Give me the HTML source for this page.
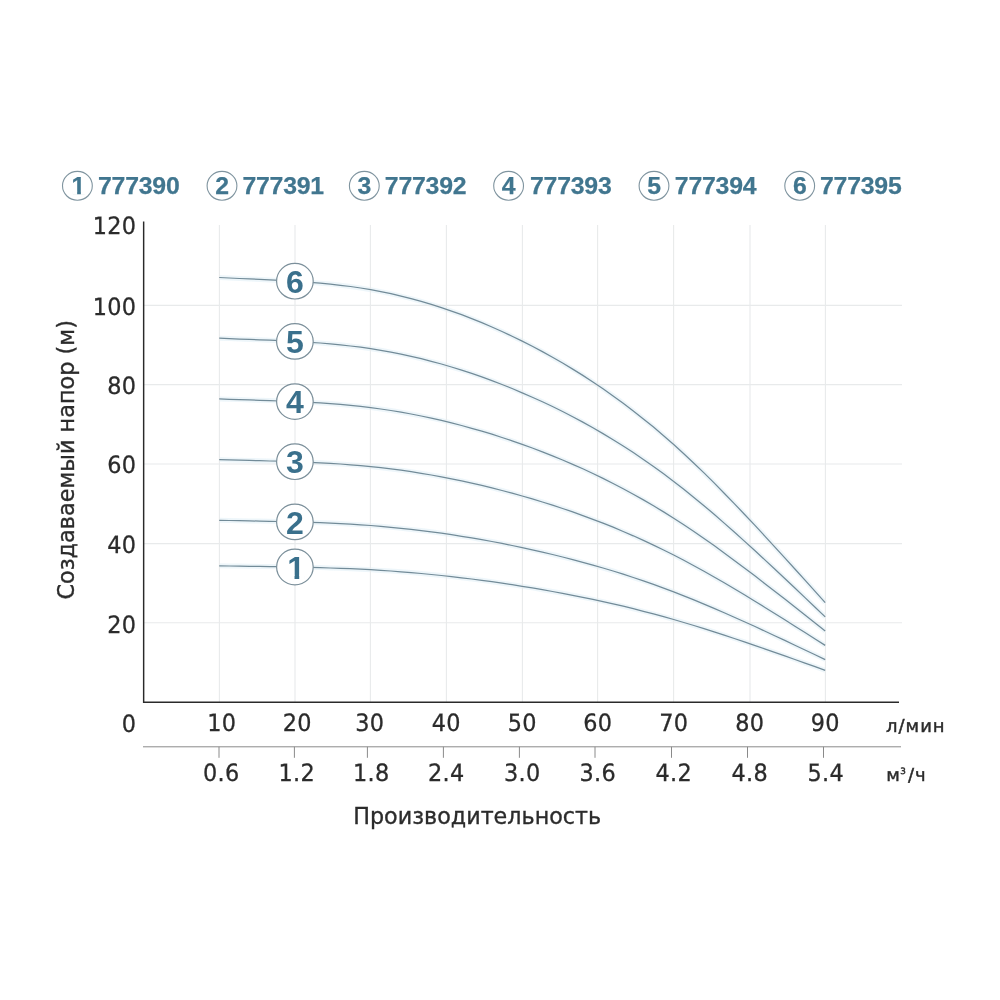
<!DOCTYPE html>
<html lang="ru"><head><meta charset="utf-8"><title>График</title>
<style>
html,body{margin:0;padding:0;background:#fff;}
body{width:1000px;height:1000px;overflow:hidden;}
svg{display:block;}
.num{font-family:"DejaVu Sans", "Liberation Sans", sans-serif;font-size:23.8px;fill:#2b2b2b;letter-spacing:0.3px;text-rendering:geometricPrecision;stroke:#2b2b2b;stroke-width:0.3px;}
.unit{font-family:"DejaVu Sans", "Liberation Sans", sans-serif;font-size:18px;fill:#2b2b2b;letter-spacing:1px;stroke:#2b2b2b;stroke-width:0.45px;text-rendering:geometricPrecision;}
.ttl{font-family:"DejaVu Sans", "Liberation Sans", sans-serif;font-size:23px;fill:#2b2b2b;stroke:#2b2b2b;stroke-width:0.35px;}
.leg{font-family:"Liberation Sans", sans-serif;font-weight:bold;font-size:24.8px;fill:#41768f;letter-spacing:-0.2px;stroke:#41768f;stroke-width:0.25px;}
.lab{font-family:"Liberation Sans", sans-serif;font-weight:bold;font-size:32px;fill:#3a708c;}
</style></head><body>
<svg width="1000" height="1000" viewBox="0 0 1000 1000">
<rect width="1000" height="1000" fill="#fff"/>

<g stroke="#e3f1f8" stroke-width="5" fill="none" stroke-linecap="butt" opacity="0.6">
<path d="M219.2 565.8 L229.3 566.0 L239.4 566.1 L249.5 566.3 L259.6 566.4 L269.7 566.6 L279.8 566.7 L289.9 566.9 L300.0 567.1 L310.1 567.4 L320.2 567.6 L330.3 568.0 L340.4 568.3 L350.5 568.7 L360.6 569.2 L370.7 569.7 L380.8 570.4 L390.9 571.0 L401.0 571.8 L411.1 572.6 L421.2 573.5 L431.3 574.5 L441.4 575.5 L451.5 576.6 L461.6 577.8 L471.7 579.0 L481.8 580.3 L491.9 581.7 L502.0 583.2 L512.1 584.7 L522.2 586.3 L532.3 587.9 L542.4 589.7 L552.5 591.5 L562.6 593.3 L572.7 595.3 L582.8 597.3 L592.9 599.4 L603.0 601.6 L613.1 603.9 L623.2 606.2 L633.3 608.7 L643.4 611.3 L653.5 613.9 L663.6 616.7 L673.7 619.5 L683.8 622.5 L693.9 625.5 L704.0 628.6 L714.1 631.9 L724.2 635.1 L734.3 638.5 L744.4 641.9 L754.5 645.4 L764.6 648.8 L774.7 652.4 L784.8 655.9 L794.9 659.5 L805.0 663.1 L815.1 666.7 L825.2 670.3"/>
<path d="M219.2 520.3 L229.3 520.5 L239.4 520.7 L249.5 520.9 L259.6 521.1 L269.7 521.3 L279.8 521.5 L289.9 521.8 L300.0 522.0 L310.1 522.4 L320.2 522.7 L330.3 523.1 L340.4 523.6 L350.5 524.2 L360.6 524.8 L370.7 525.5 L380.8 526.3 L390.9 527.3 L401.0 528.3 L411.1 529.4 L421.2 530.6 L431.3 531.8 L441.4 533.2 L451.5 534.7 L461.6 536.3 L471.7 537.9 L481.8 539.7 L491.9 541.5 L502.0 543.4 L512.1 545.5 L522.2 547.6 L532.3 549.8 L542.4 552.1 L552.5 554.5 L562.6 557.0 L572.7 559.6 L582.8 562.3 L592.9 565.1 L603.0 568.0 L613.1 571.0 L623.2 574.2 L633.3 577.5 L643.4 580.9 L653.5 584.4 L663.6 588.1 L673.7 591.9 L683.8 595.8 L693.9 599.9 L704.0 604.1 L714.1 608.3 L724.2 612.7 L734.3 617.2 L744.4 621.7 L754.5 626.3 L764.6 631.0 L774.7 635.7 L784.8 640.4 L794.9 645.2 L805.0 650.0 L815.1 654.8 L825.2 659.6"/>
<path d="M219.2 459.6 L229.3 459.9 L239.4 460.2 L249.5 460.4 L259.6 460.7 L269.7 461.0 L279.8 461.2 L289.9 461.6 L300.0 461.9 L310.1 462.3 L320.2 462.8 L330.3 463.4 L340.4 464.0 L350.5 464.8 L360.6 465.6 L370.7 466.6 L380.8 467.7 L390.9 468.9 L401.0 470.2 L411.1 471.7 L421.2 473.3 L431.3 475.0 L441.4 476.8 L451.5 478.8 L461.6 480.9 L471.7 483.1 L481.8 485.4 L491.9 487.9 L502.0 490.5 L512.1 493.1 L522.2 496.0 L532.3 498.9 L542.4 502.0 L552.5 505.2 L562.6 508.5 L572.7 511.9 L582.8 515.6 L592.9 519.3 L603.0 523.2 L613.1 527.2 L623.2 531.5 L633.3 535.8 L643.4 540.4 L653.5 545.1 L663.6 550.0 L673.7 555.0 L683.8 560.3 L693.9 565.7 L704.0 571.3 L714.1 577.0 L724.2 582.8 L734.3 588.8 L744.4 594.8 L754.5 601.0 L764.6 607.2 L774.7 613.5 L784.8 619.8 L794.9 626.2 L805.0 632.5 L815.1 639.0 L825.2 645.4"/>
<path d="M219.2 398.9 L229.3 399.3 L239.4 399.6 L249.5 399.9 L259.6 400.3 L269.7 400.6 L279.8 401.0 L289.9 401.4 L300.0 401.8 L310.1 402.3 L320.2 402.9 L330.3 403.6 L340.4 404.4 L350.5 405.4 L360.6 406.4 L370.7 407.6 L380.8 409.0 L390.9 410.5 L401.0 412.2 L411.1 414.0 L421.2 416.0 L431.3 418.1 L441.4 420.4 L451.5 422.9 L461.6 425.5 L471.7 428.3 L481.8 431.2 L491.9 434.2 L502.0 437.5 L512.1 440.8 L522.2 444.4 L532.3 448.0 L542.4 451.9 L552.5 455.9 L562.6 460.0 L572.7 464.3 L582.8 468.8 L592.9 473.5 L603.0 478.4 L613.1 483.5 L623.2 488.7 L633.3 494.2 L643.4 499.9 L653.5 505.8 L663.6 511.9 L673.7 518.2 L683.8 524.8 L693.9 531.5 L704.0 538.5 L714.1 545.6 L724.2 552.9 L734.3 560.4 L744.4 568.0 L754.5 575.6 L764.6 583.4 L774.7 591.2 L784.8 599.1 L794.9 607.1 L805.0 615.1 L815.1 623.1 L825.2 631.1"/>
<path d="M219.2 338.2 L229.3 338.6 L239.4 339.1 L249.5 339.4 L259.6 339.8 L269.7 340.2 L279.8 340.7 L289.9 341.1 L300.0 341.7 L310.1 342.3 L320.2 343.0 L330.3 343.9 L340.4 344.8 L350.5 346.0 L360.6 347.2 L370.7 348.7 L380.8 350.3 L390.9 352.1 L401.0 354.1 L411.1 356.3 L421.2 358.7 L431.3 361.3 L441.4 364.0 L451.5 367.0 L461.6 370.1 L471.7 373.4 L481.8 376.9 L491.9 380.6 L502.0 384.5 L512.1 388.5 L522.2 392.8 L532.3 397.2 L542.4 401.8 L552.5 406.5 L562.6 411.5 L572.7 416.7 L582.8 422.1 L592.9 427.7 L603.0 433.6 L613.1 439.7 L623.2 446.0 L633.3 452.6 L643.4 459.4 L653.5 466.4 L663.6 473.8 L673.7 481.4 L683.8 489.2 L693.9 497.4 L704.0 505.7 L714.1 514.3 L724.2 523.1 L734.3 532.0 L744.4 541.1 L754.5 550.3 L764.6 559.6 L774.7 569.0 L784.8 578.5 L794.9 588.0 L805.0 597.6 L815.1 607.2 L825.2 616.9"/>
<path d="M219.2 277.5 L229.3 278.0 L239.4 278.5 L249.5 278.9 L259.6 279.4 L269.7 279.9 L279.8 280.4 L289.9 280.9 L300.0 281.6 L310.1 282.3 L320.2 283.2 L330.3 284.1 L340.4 285.3 L350.5 286.5 L360.6 288.0 L370.7 289.7 L380.8 291.6 L390.9 293.7 L401.0 296.1 L411.1 298.6 L421.2 301.4 L431.3 304.4 L441.4 307.6 L451.5 311.1 L461.6 314.7 L471.7 318.6 L481.8 322.7 L491.9 327.0 L502.0 331.5 L512.1 336.2 L522.2 341.1 L532.3 346.3 L542.4 351.6 L552.5 357.2 L562.6 363.0 L572.7 369.1 L582.8 375.4 L592.9 382.0 L603.0 388.8 L613.1 395.9 L623.2 403.3 L633.3 410.9 L643.4 418.9 L653.5 427.1 L663.6 435.7 L673.7 444.5 L683.8 453.7 L693.9 463.2 L704.0 472.9 L714.1 482.9 L724.2 493.2 L734.3 503.6 L744.4 514.2 L754.5 524.9 L764.6 535.8 L774.7 546.8 L784.8 557.8 L794.9 569.0 L805.0 580.2 L815.1 591.4 L825.2 602.6"/>
</g>
<g stroke="#e8eaeb" stroke-width="1.1" fill="none">
<line x1="219.4" y1="225" x2="219.4" y2="702"/>
<line x1="295" y1="225" x2="295" y2="702"/>
<line x1="370.4" y1="225" x2="370.4" y2="702"/>
<line x1="446.4" y1="225" x2="446.4" y2="702"/>
<line x1="522.4" y1="225" x2="522.4" y2="702"/>
<line x1="597.6" y1="225" x2="597.6" y2="702"/>
<line x1="673.6" y1="225" x2="673.6" y2="702"/>
<line x1="750" y1="225" x2="750" y2="702"/>
<line x1="825.4" y1="225" x2="825.4" y2="702"/>
<line x1="144" y1="305.4" x2="902" y2="305.4"/>
<line x1="144" y1="384.6" x2="902" y2="384.6"/>
<line x1="144" y1="464" x2="902" y2="464"/>
<line x1="144" y1="543.6" x2="902" y2="543.6"/>
<line x1="144" y1="622.8" x2="902" y2="622.8"/>
</g>
<g stroke="#728b98" stroke-width="1.25" fill="none" stroke-linecap="butt">
<path d="M219.2 565.8 L229.3 566.0 L239.4 566.1 L249.5 566.3 L259.6 566.4 L269.7 566.6 L279.8 566.7 L289.9 566.9 L300.0 567.1 L310.1 567.4 L320.2 567.6 L330.3 568.0 L340.4 568.3 L350.5 568.7 L360.6 569.2 L370.7 569.7 L380.8 570.4 L390.9 571.0 L401.0 571.8 L411.1 572.6 L421.2 573.5 L431.3 574.5 L441.4 575.5 L451.5 576.6 L461.6 577.8 L471.7 579.0 L481.8 580.3 L491.9 581.7 L502.0 583.2 L512.1 584.7 L522.2 586.3 L532.3 587.9 L542.4 589.7 L552.5 591.5 L562.6 593.3 L572.7 595.3 L582.8 597.3 L592.9 599.4 L603.0 601.6 L613.1 603.9 L623.2 606.2 L633.3 608.7 L643.4 611.3 L653.5 613.9 L663.6 616.7 L673.7 619.5 L683.8 622.5 L693.9 625.5 L704.0 628.6 L714.1 631.9 L724.2 635.1 L734.3 638.5 L744.4 641.9 L754.5 645.4 L764.6 648.8 L774.7 652.4 L784.8 655.9 L794.9 659.5 L805.0 663.1 L815.1 666.7 L825.2 670.3"/>
<path d="M219.2 520.3 L229.3 520.5 L239.4 520.7 L249.5 520.9 L259.6 521.1 L269.7 521.3 L279.8 521.5 L289.9 521.8 L300.0 522.0 L310.1 522.4 L320.2 522.7 L330.3 523.1 L340.4 523.6 L350.5 524.2 L360.6 524.8 L370.7 525.5 L380.8 526.3 L390.9 527.3 L401.0 528.3 L411.1 529.4 L421.2 530.6 L431.3 531.8 L441.4 533.2 L451.5 534.7 L461.6 536.3 L471.7 537.9 L481.8 539.7 L491.9 541.5 L502.0 543.4 L512.1 545.5 L522.2 547.6 L532.3 549.8 L542.4 552.1 L552.5 554.5 L562.6 557.0 L572.7 559.6 L582.8 562.3 L592.9 565.1 L603.0 568.0 L613.1 571.0 L623.2 574.2 L633.3 577.5 L643.4 580.9 L653.5 584.4 L663.6 588.1 L673.7 591.9 L683.8 595.8 L693.9 599.9 L704.0 604.1 L714.1 608.3 L724.2 612.7 L734.3 617.2 L744.4 621.7 L754.5 626.3 L764.6 631.0 L774.7 635.7 L784.8 640.4 L794.9 645.2 L805.0 650.0 L815.1 654.8 L825.2 659.6"/>
<path d="M219.2 459.6 L229.3 459.9 L239.4 460.2 L249.5 460.4 L259.6 460.7 L269.7 461.0 L279.8 461.2 L289.9 461.6 L300.0 461.9 L310.1 462.3 L320.2 462.8 L330.3 463.4 L340.4 464.0 L350.5 464.8 L360.6 465.6 L370.7 466.6 L380.8 467.7 L390.9 468.9 L401.0 470.2 L411.1 471.7 L421.2 473.3 L431.3 475.0 L441.4 476.8 L451.5 478.8 L461.6 480.9 L471.7 483.1 L481.8 485.4 L491.9 487.9 L502.0 490.5 L512.1 493.1 L522.2 496.0 L532.3 498.9 L542.4 502.0 L552.5 505.2 L562.6 508.5 L572.7 511.9 L582.8 515.6 L592.9 519.3 L603.0 523.2 L613.1 527.2 L623.2 531.5 L633.3 535.8 L643.4 540.4 L653.5 545.1 L663.6 550.0 L673.7 555.0 L683.8 560.3 L693.9 565.7 L704.0 571.3 L714.1 577.0 L724.2 582.8 L734.3 588.8 L744.4 594.8 L754.5 601.0 L764.6 607.2 L774.7 613.5 L784.8 619.8 L794.9 626.2 L805.0 632.5 L815.1 639.0 L825.2 645.4"/>
<path d="M219.2 398.9 L229.3 399.3 L239.4 399.6 L249.5 399.9 L259.6 400.3 L269.7 400.6 L279.8 401.0 L289.9 401.4 L300.0 401.8 L310.1 402.3 L320.2 402.9 L330.3 403.6 L340.4 404.4 L350.5 405.4 L360.6 406.4 L370.7 407.6 L380.8 409.0 L390.9 410.5 L401.0 412.2 L411.1 414.0 L421.2 416.0 L431.3 418.1 L441.4 420.4 L451.5 422.9 L461.6 425.5 L471.7 428.3 L481.8 431.2 L491.9 434.2 L502.0 437.5 L512.1 440.8 L522.2 444.4 L532.3 448.0 L542.4 451.9 L552.5 455.9 L562.6 460.0 L572.7 464.3 L582.8 468.8 L592.9 473.5 L603.0 478.4 L613.1 483.5 L623.2 488.7 L633.3 494.2 L643.4 499.9 L653.5 505.8 L663.6 511.9 L673.7 518.2 L683.8 524.8 L693.9 531.5 L704.0 538.5 L714.1 545.6 L724.2 552.9 L734.3 560.4 L744.4 568.0 L754.5 575.6 L764.6 583.4 L774.7 591.2 L784.8 599.1 L794.9 607.1 L805.0 615.1 L815.1 623.1 L825.2 631.1"/>
<path d="M219.2 338.2 L229.3 338.6 L239.4 339.1 L249.5 339.4 L259.6 339.8 L269.7 340.2 L279.8 340.7 L289.9 341.1 L300.0 341.7 L310.1 342.3 L320.2 343.0 L330.3 343.9 L340.4 344.8 L350.5 346.0 L360.6 347.2 L370.7 348.7 L380.8 350.3 L390.9 352.1 L401.0 354.1 L411.1 356.3 L421.2 358.7 L431.3 361.3 L441.4 364.0 L451.5 367.0 L461.6 370.1 L471.7 373.4 L481.8 376.9 L491.9 380.6 L502.0 384.5 L512.1 388.5 L522.2 392.8 L532.3 397.2 L542.4 401.8 L552.5 406.5 L562.6 411.5 L572.7 416.7 L582.8 422.1 L592.9 427.7 L603.0 433.6 L613.1 439.7 L623.2 446.0 L633.3 452.6 L643.4 459.4 L653.5 466.4 L663.6 473.8 L673.7 481.4 L683.8 489.2 L693.9 497.4 L704.0 505.7 L714.1 514.3 L724.2 523.1 L734.3 532.0 L744.4 541.1 L754.5 550.3 L764.6 559.6 L774.7 569.0 L784.8 578.5 L794.9 588.0 L805.0 597.6 L815.1 607.2 L825.2 616.9"/>
<path d="M219.2 277.5 L229.3 278.0 L239.4 278.5 L249.5 278.9 L259.6 279.4 L269.7 279.9 L279.8 280.4 L289.9 280.9 L300.0 281.6 L310.1 282.3 L320.2 283.2 L330.3 284.1 L340.4 285.3 L350.5 286.5 L360.6 288.0 L370.7 289.7 L380.8 291.6 L390.9 293.7 L401.0 296.1 L411.1 298.6 L421.2 301.4 L431.3 304.4 L441.4 307.6 L451.5 311.1 L461.6 314.7 L471.7 318.6 L481.8 322.7 L491.9 327.0 L502.0 331.5 L512.1 336.2 L522.2 341.1 L532.3 346.3 L542.4 351.6 L552.5 357.2 L562.6 363.0 L572.7 369.1 L582.8 375.4 L592.9 382.0 L603.0 388.8 L613.1 395.9 L623.2 403.3 L633.3 410.9 L643.4 418.9 L653.5 427.1 L663.6 435.7 L673.7 444.5 L683.8 453.7 L693.9 463.2 L704.0 472.9 L714.1 482.9 L724.2 493.2 L734.3 503.6 L744.4 514.2 L754.5 524.9 L764.6 535.8 L774.7 546.8 L784.8 557.8 L794.9 569.0 L805.0 580.2 L815.1 591.4 L825.2 602.6"/>
</g>
<path d="M143.65 221.5 V702.3 H899" stroke="#2a2a2a" stroke-width="1.45" fill="none"/>
<g stroke="#8a8a8a" stroke-width="1" fill="none">
<line x1="143" y1="746.8" x2="901" y2="746.8"/>
<line x1="219" y1="746.8" x2="219" y2="757.8"/>
<line x1="294.4" y1="746.8" x2="294.4" y2="757.8"/>
<line x1="367.4" y1="746.8" x2="367.4" y2="757.8"/>
<line x1="443.4" y1="746.8" x2="443.4" y2="757.8"/>
<line x1="519.4" y1="746.8" x2="519.4" y2="757.8"/>
<line x1="595" y1="746.8" x2="595" y2="757.8"/>
<line x1="671.5" y1="746.8" x2="671.5" y2="757.8"/>
<line x1="747.5" y1="746.8" x2="747.5" y2="757.8"/>
<line x1="823.5" y1="746.8" x2="823.5" y2="757.8"/>
</g>
<ellipse cx="294.9" cy="567.0" rx="18.3" ry="17.8" fill="#fff" stroke="#7b8f9a" stroke-width="1.2"/>
<text class="lab" x="296.09999999999997" y="578.7" text-anchor="middle">1</text>
<ellipse cx="294.9" cy="521.9" rx="18.3" ry="17.8" fill="#fff" stroke="#7b8f9a" stroke-width="1.2"/>
<text class="lab" x="294.9" y="533.6" text-anchor="middle">2</text>
<ellipse cx="294.9" cy="461.7" rx="18.3" ry="17.8" fill="#fff" stroke="#7b8f9a" stroke-width="1.2"/>
<text class="lab" x="294.9" y="473.4" text-anchor="middle">3</text>
<ellipse cx="294.9" cy="401.6" rx="18.3" ry="17.8" fill="#fff" stroke="#7b8f9a" stroke-width="1.2"/>
<text class="lab" x="294.9" y="413.3" text-anchor="middle">4</text>
<ellipse cx="294.9" cy="341.4" rx="18.3" ry="17.8" fill="#fff" stroke="#7b8f9a" stroke-width="1.2"/>
<text class="lab" x="294.9" y="353.1" text-anchor="middle">5</text>
<ellipse cx="294.9" cy="281.2" rx="18.3" ry="17.8" fill="#fff" stroke="#7b8f9a" stroke-width="1.2"/>
<text class="lab" x="294.9" y="292.9" text-anchor="middle">6</text>
<rect x="288.42" y="574.86" width="6.10" height="4.67" fill="#fff"/><rect x="299.21" y="574.86" width="5.70" height="4.67" fill="#fff"/>

<ellipse cx="77.4" cy="185.8" rx="14.9" ry="14.4" fill="#fff" stroke="#7f949f" stroke-width="1.1"/>
<text class="leg" x="78.4" y="194" text-anchor="middle">1</text>
<text class="leg" x="98.0" y="194">777390</text>
<ellipse cx="222" cy="185.8" rx="14.9" ry="14.4" fill="#fff" stroke="#7f949f" stroke-width="1.1"/>
<text class="leg" x="222" y="194" text-anchor="middle">2</text>
<text class="leg" x="242.4" y="194">777391</text>
<ellipse cx="364.3" cy="185.8" rx="14.9" ry="14.4" fill="#fff" stroke="#7f949f" stroke-width="1.1"/>
<text class="leg" x="364.3" y="194" text-anchor="middle">3</text>
<text class="leg" x="384.79999999999995" y="194">777392</text>
<ellipse cx="508.6" cy="185.8" rx="14.9" ry="14.4" fill="#fff" stroke="#7f949f" stroke-width="1.1"/>
<text class="leg" x="508.6" y="194" text-anchor="middle">4</text>
<text class="leg" x="530.0" y="194">777393</text>
<ellipse cx="654" cy="185.8" rx="14.9" ry="14.4" fill="#fff" stroke="#7f949f" stroke-width="1.1"/>
<text class="leg" x="654" y="194" text-anchor="middle">5</text>
<text class="leg" x="674.8" y="194">777394</text>
<ellipse cx="799.7" cy="185.8" rx="14.9" ry="14.4" fill="#fff" stroke="#7f949f" stroke-width="1.1"/>
<text class="leg" x="799.7" y="194" text-anchor="middle">6</text>
<text class="leg" x="820.0" y="194">777395</text>
<rect x="72.27" y="190.87" width="4.88" height="3.93" fill="#fff"/><rect x="80.85" y="190.87" width="4.56" height="3.93" fill="#fff"/>
<text class="num" transform="translate(136.3 234.1) scale(0.94 1)" text-anchor="end">120</text>
<text class="num" transform="translate(136.3 314.9) scale(0.94 1)" text-anchor="end">100</text>
<text class="num" transform="translate(136.3 393.5) scale(0.94 1)" text-anchor="end">80</text>
<text class="num" transform="translate(136.3 472.9) scale(0.94 1)" text-anchor="end">60</text>
<text class="num" transform="translate(136.3 552.5) scale(0.94 1)" text-anchor="end">40</text>
<text class="num" transform="translate(136.3 632.5) scale(0.94 1)" text-anchor="end">20</text>
<text class="num" transform="translate(136.3 731.7) scale(0.94 1)" text-anchor="end">0</text>
<text class="num" transform="translate(221.7 731.2) scale(0.94 1)" text-anchor="middle">10</text>
<text class="num" transform="translate(297.2 731.2) scale(0.94 1)" text-anchor="middle">20</text>
<text class="num" transform="translate(369.8 731.2) scale(0.94 1)" text-anchor="middle">30</text>
<text class="num" transform="translate(446.2 731.2) scale(0.94 1)" text-anchor="middle">40</text>
<text class="num" transform="translate(522.2 731.2) scale(0.94 1)" text-anchor="middle">50</text>
<text class="num" transform="translate(597.8 731.2) scale(0.94 1)" text-anchor="middle">60</text>
<text class="num" transform="translate(673.8 731.2) scale(0.94 1)" text-anchor="middle">70</text>
<text class="num" transform="translate(749.7 731.2) scale(0.94 1)" text-anchor="middle">80</text>
<text class="num" transform="translate(825.2 731.2) scale(0.94 1)" text-anchor="middle">90</text>
<text class="num" transform="translate(221.2 780.9) scale(0.94 1)" text-anchor="middle">0.6</text>
<text class="num" transform="translate(296.7 780.9) scale(0.94 1)" text-anchor="middle">1.2</text>
<text class="num" transform="translate(371.2 780.9) scale(0.94 1)" text-anchor="middle">1.8</text>
<text class="num" transform="translate(446.2 780.9) scale(0.94 1)" text-anchor="middle">2.4</text>
<text class="num" transform="translate(522.2 780.9) scale(0.94 1)" text-anchor="middle">3.0</text>
<text class="num" transform="translate(597.8 780.9) scale(0.94 1)" text-anchor="middle">3.6</text>
<text class="num" transform="translate(673.8 780.9) scale(0.94 1)" text-anchor="middle">4.2</text>
<text class="num" transform="translate(749.7 780.9) scale(0.94 1)" text-anchor="middle">4.8</text>
<text class="num" transform="translate(825.7 780.9) scale(0.94 1)" text-anchor="middle">5.4</text>
<text class="unit" x="886" y="732.4">л/мин</text>
<text class="unit" x="886.3" y="781.3">м<tspan font-size="8.8" dy="-7.6" dx="-0.6">3</tspan><tspan dy="7.6" dx="1.1">/ч</tspan></text>
<text class="ttl" x="353.2" y="824.2" textLength="248" lengthAdjust="spacingAndGlyphs">Производительность</text>
<text class="ttl" transform="translate(74.4,599.6) rotate(-90)" textLength="279.5" lengthAdjust="spacingAndGlyphs">Создаваемый напор (м)</text>
</svg></body></html>
